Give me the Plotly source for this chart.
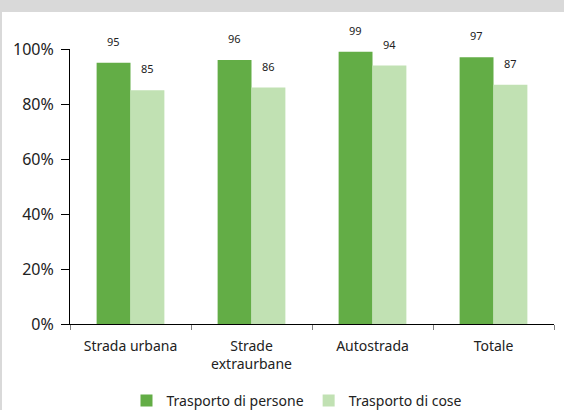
import plotly.graph_objects as go

categories = ["Strada urbana", "Strade<br>extraurbane", "Autostrada", "Totale"]
persone = [95, 96, 99, 97]
cose = [85, 86, 94, 87]
series_names = ["Trasporto di persone", "Trasporto di cose"]
y_ticks = [0, 20, 40, 60, 80, 100]
y_tick_labels = ["0%", "20%", "40%", "60%", "80%", "100%"]

DARK = "#63ad46"
LIGHT = "#c1e1b3"
FONT = "Noto Sans"

fig = go.Figure()
fig.add_bar(x=categories, y=persone, name=series_names[0], marker_color=DARK,
            marker_line_width=0)
fig.add_bar(x=categories, y=cose, name=series_names[1], marker_color=LIGHT,
            marker_line_width=0)

annotations = []
for vals, shift in ((persone, -17), (cose, 17)):
    for c, v in zip(categories, vals):
        annotations.append(dict(x=c, y=v, xref="x", yref="y", text=str(v),
                                showarrow=False, yanchor="bottom", xshift=shift,
                                yshift=12, font=dict(family=FONT, size=11, color="#222")))

fig.update_layout(
    width=564, height=410,
    margin=dict(l=70, r=10, t=49, b=86, autoexpand=False),
    paper_bgcolor="white", plot_bgcolor="white",
    barmode="group", bargap=0.44, bargroupgap=0,
    font=dict(family=FONT, size=15, color="#222"),
    showlegend=True,
    legend=dict(orientation="h", x=0.469, xanchor="center", y=-0.28, yanchor="middle",
                font=dict(family=FONT, size=14, color="#222"),
                itemwidth=30, tracegroupgap=0),
    annotations=annotations,
    shapes=[
        dict(type="rect", xref="paper", yref="paper", x0=-0.2, x1=1.1, y0=1.1345, y1=1.2,
             fillcolor="#d9d9d9", line_width=0, layer="below"),
        dict(type="rect", xref="paper", yref="paper", x0=-0.2, x1=-0.1405, y0=-0.4, y1=1.2,
             fillcolor="#d9d9d9", line_width=0, layer="below"),
    ],
)
fig.update_xaxes(showline=True, linecolor="black", linewidth=1, ticks="outside",
                 tickson="boundaries", ticklen=5, tickcolor="#808080", automargin=False,
                 ticklabelstandoff=9, tickangle=0,
                 showgrid=False, tickfont=dict(family=FONT, size=14, color="#222"))
fig.update_yaxes(range=[0, 100], tickvals=y_ticks, ticktext=y_tick_labels,
                 showline=True, linecolor="black", linewidth=1, ticks="outside",
                 ticklen=8, tickcolor="black", showgrid=False, zeroline=False,
                 automargin=False, ticklabelstandoff=4,
                 tickfont=dict(family=FONT, size=16, color="#222"))

fig.write_html("out.html", config={"displayModeBar": False},
               post_script="document.body.style.margin='0';document.body.style.overflow='hidden';")
